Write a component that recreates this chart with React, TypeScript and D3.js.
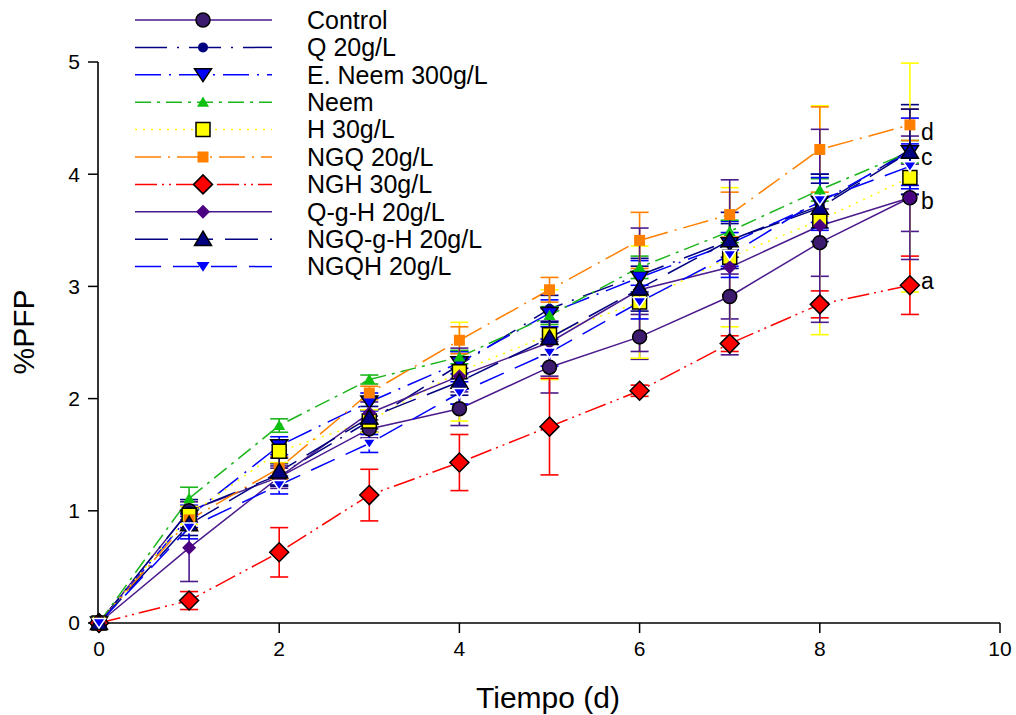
import React from "react";
import * as d3 from "d3";

const days = [0, 1, 2, 3, 4, 5, 6, 7, 8, 9];
const seriesNames = [
  "Control", "Q 20g/L", "E. Neem 300g/L", "Neem", "H 30g/L",
  "NGQ 20g/L", "NGH 30g/L", "Q-g-H 20g/L", "NGQ-g-H 20g/L", "NGQH 20g/L",
];
const controlVals = [0, 1.0, 1.3, 1.73, 1.91, 2.28, 2.55, 2.91, 3.39, 3.79];
const q20Vals = [0, 1.0, 1.32, 1.8, 2.3, 2.8, 3.1, 3.41, 3.72, 4.22];
const eNeemVals = [0, 0.95, 1.58, 1.97, 2.32, 2.76, 3.08, 3.38, 3.75, 4.2];
const neemVals = [0, 1.11, 1.76, 2.17, 2.37, 2.74, 3.17, 3.49, 3.86, 4.2];
const h30Vals = [0, 0.96, 1.53, 1.8, 2.24, 2.57, 2.86, 3.26, 3.59, 3.97];
const ngq20Vals = [0, 0.92, 1.38, 2.05, 2.52, 2.97, 3.41, 3.64, 4.22, 4.44];
const ngh30Vals = [0, 0.2, 0.63, 1.14, 1.43, 1.75, 2.07, 2.49, 2.84, 3.01];
const qghVals = [0, 0.67, 1.3, 1.87, 2.2, 2.5, 2.97, 3.17, 3.54, 3.79];
const ngqghVals = [0, 0.88, 1.35, 1.83, 2.15, 2.54, 2.98, 3.41, 3.7, 4.2];
const ngqhVals = [0, 0.85, 1.23, 1.6, 2.05, 2.41, 2.86, 3.28, 3.77, 4.07];

const controlSd = [0, 0.08, 0.08, 0.08, 0.15, 0.23, 0.2, 0.2, 0.3, 0.3];
const q20Sd = [0, 0.1, 0.1, 0.1, 0.12, 0.12, 0.15, 0.15, 0.2, 0.4];
const eNeemSd = [0, 0.1, 0.08, 0.08, 0.1, 0.12, 0.15, 0.2, 0.25, 0.3];
const neemSd = [0, 0.1, 0.06, 0.04, 0.06, 0.08, 0.1, 0.1, 0.1, 0.1];
const h30Sd = [0, 0.08, 0.1, 0.1, 0.44, 0.4, 0.5, 0.62, 1.02, 1.02];
const ngq20Sd = [0, 0.08, 0.1, 0.06, 0.12, 0.11, 0.25, 0.2, 0.38, 0.14];
const ngh30Sd = [0, 0.08, 0.22, 0.23, 0.25, 0.43, 0.05, 0.07, 0.12, 0.26];
const qghSd = [0, 0.3, 0.1, 0.1, 0.25, 0.3, 0.55, 0.78, 0.86, 0.55];
const ngqghSd = [0, 0.1, 0.12, 0.1, 0.12, 0.15, 0.2, 0.25, 0.3, 0.38];
const ngqhSd = [0, 0.1, 0.08, 0.08, 0.1, 0.12, 0.15, 0.2, 0.2, 0.2];

const xTicks = [0, 2, 4, 6, 8, 10];
const yTicks = [0, 1, 2, 3, 4, 5];
const sigLetters = ["d", "c", "b", "a"];
const sigLetterY = [4.38, 4.15, 3.76, 3.05];

const allVals = [controlVals, q20Vals, eNeemVals, neemVals, h30Vals, ngq20Vals, ngh30Vals, qghVals, ngqghVals, ngqhVals];
const allSd = [controlSd, q20Sd, eNeemSd, neemSd, h30Sd, ngq20Sd, ngh30Sd, qghSd, ngqghSd, ngqhSd];

type Style = { color: string; dash: string; shape: string; size: number; fill: string; stroke: string };
const styles: Style[] = [
  { color: "#4b1a8c", dash: "", shape: "circle", size: 7, fill: "#3c1a6e", stroke: "#000" },
  { color: "#000080", dash: "32,10,2,10", shape: "circle", size: 5, fill: "#000080", stroke: "none" },
  { color: "#0000ff", dash: "26,8,2,8", shape: "down", size: 8.5, fill: "#0000ff", stroke: "#000" },
  { color: "#1cb51c", dash: "16,6,3,6", shape: "up", size: 6, fill: "#10c010", stroke: "none" },
  { color: "#ffff00", dash: "2,6", shape: "square", size: 7, fill: "#ffff00", stroke: "#000" },
  { color: "#ff8000", dash: "26,7,2,7", shape: "square", size: 5.5, fill: "#ff8000", stroke: "none" },
  { color: "#ff0000", dash: "22,5,2,5,2,5", shape: "diamond", size: 9.5, fill: "#ff0000", stroke: "#000" },
  { color: "#4b1a8c", dash: "", shape: "diamond", size: 7, fill: "#4b0082", stroke: "none" },
  { color: "#000080", dash: "33,12", shape: "up", size: 8.5, fill: "#000080", stroke: "#000" },
  { color: "#0000ff", dash: "26,12", shape: "down", size: 6.5, fill: "#0000ff", stroke: "#fff" },
];

function markerPath(shape: string, s: number): string {
  switch (shape) {
    case "circle":
      return `M${-s},0A${s},${s} 0 1,0 ${s},0A${s},${s} 0 1,0 ${-s},0Z`;
    case "up":
      return `M0,${-s * 0.95}L${s},${s * 0.75}L${-s},${s * 0.75}Z`;
    case "down":
      return `M0,${s * 0.8}L${s},${-s * 0.7}L${-s},${-s * 0.7}Z`;
    case "square":
      return `M${-s},${-s}H${s}V${s}H${-s}Z`;
    case "diamond":
      return `M0,${-s}L${s},0L0,${s}L${-s},0Z`;
    default:
      return "";
  }
}

const FONT = "Liberation Sans, Arial, sans-serif";

export default function App() {
  const W = 1016, H = 715;
  const x = d3.scaleLinear().domain([0, 10]).range([99, 1000]);
  const y = d3.scaleLinear().domain([0, 5]).range([623, 62]);
  const line = d3.line<number>().x((_, i) => x(days[i])).y((v) => y(v));
  const cap = 9;

  return (
    <svg width={W} height={H} style={{ position: "absolute", left: 0, top: 0, background: "#fff" }} fontFamily={FONT}>
      <rect width={W} height={H} fill="#fff" />
      {/* axes */}
      <line x1={x(0) - 1} x2={x(0) - 1} y1={y(5)} y2={y(0)} stroke="#000" strokeWidth={1.6} />
      <line x1={x(0) - 1} x2={x(10)} y1={y(0)} y2={y(0)} stroke="#000" strokeWidth={1.6} />
      {yTicks.map((t) => (
        <g key={"y" + t}>
          <line x1={x(0) - 11} x2={x(0) - 1} y1={y(t)} y2={y(t)} stroke="#000" strokeWidth={1.5} />
          <text x={x(0) - 19} y={y(t)} dy="0.35em" textAnchor="end" fontSize={21}>{t}</text>
        </g>
      ))}
      {xTicks.map((t) => (
        <g key={"x" + t}>
          <line x1={x(t)} x2={x(t)} y1={y(0)} y2={y(0) + 10} stroke="#000" strokeWidth={1.5} />
          <text x={x(t)} y={y(0) + 33} textAnchor="middle" fontSize={21}>{t}</text>
        </g>
      ))}
      <text x={548} y={708} textAnchor="middle" fontSize={30}>Tiempo (d)</text>
      <text transform={`translate(34,${332}) rotate(-90)`} textAnchor="middle" fontSize={30}>%PFP</text>

      {/* lines */}
      {allVals.map((vals, si) => (
        <path key={"l" + si} d={line(vals) || ""} fill="none" stroke={styles[si].color}
          strokeWidth={1.5} strokeDasharray={styles[si].dash || undefined} />
      ))}
      {/* error bars */}
      {allVals.map((vals, si) => (
        <g key={"e" + si} stroke={styles[si].color} strokeWidth={1.6}>
          {vals.map((v, i) => {
            const sd = allSd[si][i];
            if (!sd) return null;
            const cx = x(days[i]);
            return (
              <g key={i}>
                <line x1={cx} x2={cx} y1={y(v + sd)} y2={y(v - sd)} />
                <line x1={cx - cap} x2={cx + cap} y1={y(v + sd)} y2={y(v + sd)} />
                <line x1={cx - cap} x2={cx + cap} y1={y(v - sd)} y2={y(v - sd)} />
              </g>
            );
          })}
        </g>
      ))}
      {/* markers */}
      {allVals.map((vals, si) => (
        <g key={"m" + si}>
          {vals.map((v, i) => (
            <path key={i} transform={`translate(${x(days[i])},${y(v)})`}
              d={markerPath(styles[si].shape, styles[si].size)}
              fill={styles[si].fill} stroke={styles[si].stroke} strokeWidth={1.5} />
          ))}
        </g>
      ))}
      {/* significance letters */}
      {sigLetters.map((l, i) => (
        <text key={l} x={921} y={y(sigLetterY[i])} dy="0.35em" fontSize={23}>{l}</text>
      ))}
      {/* legend */}
      {seriesNames.map((name, si) => {
        const ly = 20 + si * 27.4;
        const st = styles[si];
        return (
          <g key={"lg" + si}>
            <line x1={135} x2={272} y1={ly} y2={ly} stroke={st.color} strokeWidth={1.5}
              strokeDasharray={st.dash || undefined} />
            <path transform={`translate(203,${ly})`} d={markerPath(st.shape, st.size)}
              fill={st.fill} stroke={st.stroke === "#fff" ? "none" : st.stroke} strokeWidth={1.5} />
            <text x={307} y={ly} dy="0.35em" fontSize={25}>{name}</text>
          </g>
        );
      })}
    </svg>
  );
}
